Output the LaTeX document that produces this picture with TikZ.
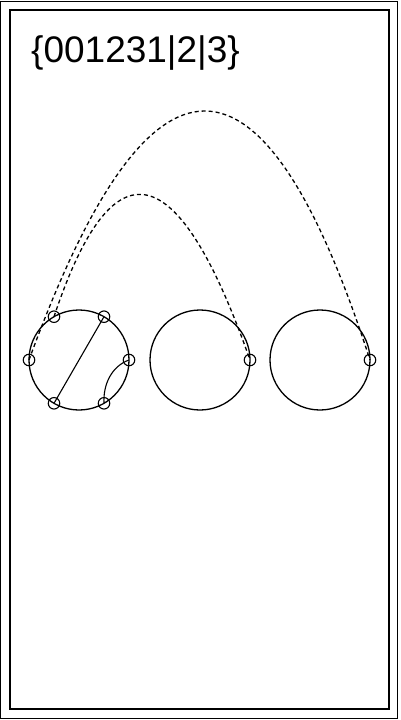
\documentclass[tikz,border=0pt]{standalone}
\usepackage{fontspec}
\setmainfont{Liberation Sans}
\begin{document}
\begin{tikzpicture}[x=1pt,y=-1pt,
  ring/.style={draw,line width=1.3pt},
  vtx/.style={circle,draw,line width=1.1pt,minimum size=11.5pt,inner sep=0pt},
  chordline/.style={line width=1.1pt},
  arcline/.style={line width=1.3pt,dash pattern=on 4pt off 3pt}]
\useasboundingbox (0,0) rectangle (400,720);
\draw[line width=1pt] (0.5,1.5) rectangle (397.5,718.5);
\draw[line width=2pt] (10,10) rectangle (389,709);
\node[anchor=base west,font=\fontsize{37}{40}\selectfont,inner sep=0pt] (lbl) at (31,62) {\{001231|2|3\}};
% circles
\draw[ring] (79,360) circle[radius=50];
\draw[ring] (200,360) circle[radius=50];
\draw[ring] (320,360) circle[radius=50];
% vertices
\node[vtx] (a1) at (54,316.7) {};
\node[vtx] (a0) at (104,316.7) {};
\node[vtx] (a2) at (29,360) {};
\node[vtx] (a5) at (129,360) {};
\node[vtx] (a3) at (54,403.3) {};
\node[vtx] (a4) at (104,403.3) {};
\node[vtx] (b0) at (250,360) {};
\node[vtx] (c0) at (370,360) {};
% chords
\draw[chordline] (a0.center) -- (a3.center);
\draw[chordline] (a5.center) .. controls (112,366) and (103,384) .. (a4.center);
% dashed arcs
\draw[arcline] (a2.center) .. controls (150,28) and (263,28) .. (c0.center);
\draw[arcline] (a1.center) .. controls (113,140) and (178,155) .. (b0.center);
\end{tikzpicture}
\end{document}
